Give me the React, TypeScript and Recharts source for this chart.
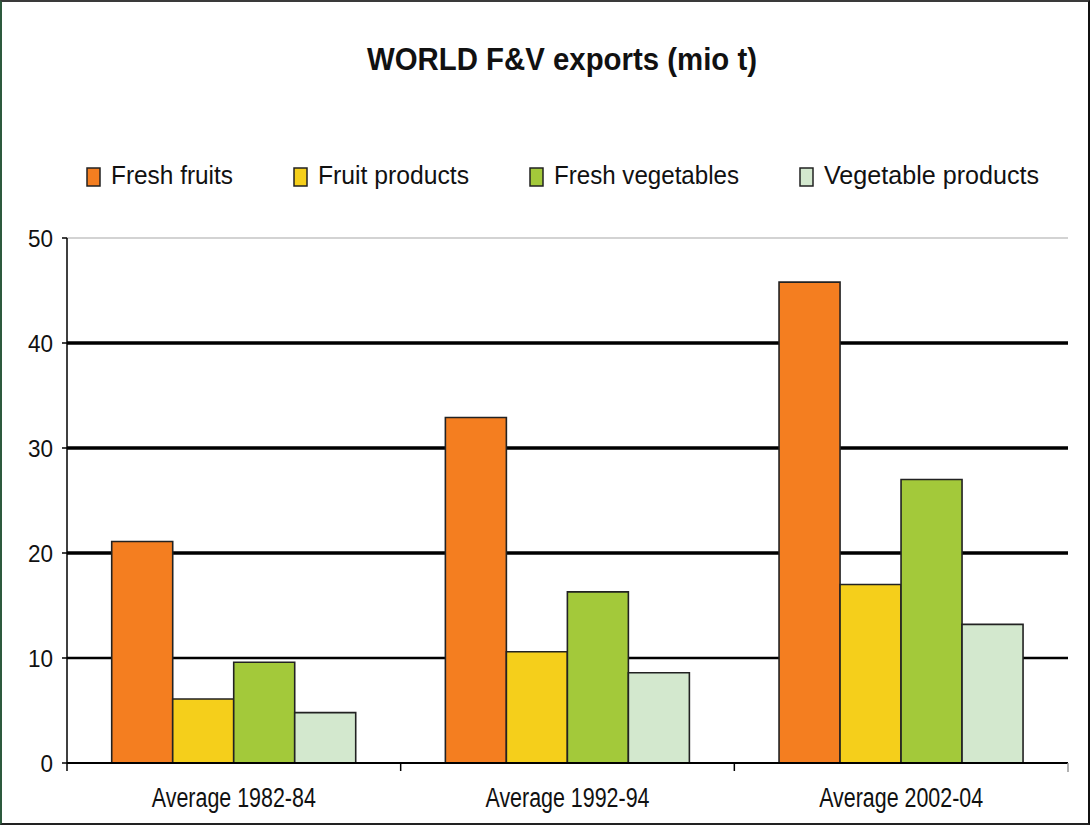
import React from 'react';
import { BarChart, Bar, XAxis, YAxis, CartesianGrid } from 'recharts';

// ---------- data ----------
const categories = ['Average 1982-84', 'Average 1992-94', 'Average 2002-04'];
const freshFruits = [21.1, 32.9, 45.8];
const fruitProducts = [6.1, 10.6, 17.0];
const freshVegetables = [9.6, 16.3, 27.0];
const vegetableProducts = [4.8, 8.6, 13.2];
const yTicks = [0, 10, 20, 30, 40, 50];
const seriesKeys = ['freshFruits', 'fruitProducts', 'freshVegetables', 'vegetableProducts'];
const seriesNames = ['Fresh fruits', 'Fruit products', 'Fresh vegetables', 'Vegetable products'];
const chartTitle = 'WORLD F&V exports (mio t)';

const data = categories.map((c, i) => ({
  category: c,
  freshFruits: freshFruits[i],
  fruitProducts: fruitProducts[i],
  freshVegetables: freshVegetables[i],
  vegetableProducts: vegetableProducts[i],
}));

// ---------- style ----------
const FONT = '"Liberation Sans", Arial, sans-serif';
const colors: Record<string, string> = {
  freshFruits: '#F47E20',
  fruitProducts: '#F5CF1B',
  freshVegetables: '#A3C93A',
  vegetableProducts: '#D3E8CE',
};
const legendTextWidths = [122, 151, 185, 215];
const W = 1091;
const H = 826;

const XTick = (props: any) => {
  const { x, y, payload, index } = props;
  const half = payload && typeof payload.offset === 'number' && payload.offset > 0 ? payload.offset : 1001 / 6;
  const isLast = index === categories.length - 1;
  return (
    <g>
      <line x1={x - half} y1={y} x2={x - half} y2={y + 8} stroke="#000" strokeWidth={1.5} />
      {isLast && <line x1={x + half} y1={y} x2={x + half} y2={y + 9} stroke="#999" strokeWidth={1.5} />}
      <text
        x={x}
        y={y + 44}
        textAnchor="middle"
        fontFamily={FONT}
        fontSize={27}
        fill="#111"
        textLength={164}
        lengthAdjust="spacingAndGlyphs"
      >
        {payload.value}
      </text>
    </g>
  );
};

const YTick = (props: any) => {
  const { x, y, payload } = props;
  const s = String(payload.value);
  return (
    <text
      x={x}
      y={y}
      dy="0.36em"
      textAnchor="end"
      fontFamily={FONT}
      fontSize={24}
      fill="#111"
      textLength={s.length * 12.5}
      lengthAdjust="spacingAndGlyphs"
    >
      {s}
    </text>
  );
};

const GridLine = (p: any) => {
  const top = typeof p.y === 'number' ? p.y : 0;
  const h = typeof p.height === 'number' && p.height > 0 ? p.height : 1;
  const frac = 1 - (p.y1 - top) / h; // 0 at bottom, 1 at top
  let stroke = '#000';
  let sw = 3.5;
  if (frac > 0.95) {
    stroke = '#a8a8a8';
    sw = 1.2;
  } else if (frac < 0.05) {
    sw = 0;
  } else if (frac < 0.3) {
    sw = 2.4;
  }
  if (sw === 0) return <g key={p.key} />;
  return <line key={p.key} x1={p.x1} y1={p.y1} x2={p.x2} y2={p.y2} stroke={stroke} strokeWidth={sw} />;
};

export default function App() {
  let lx = 87;
  const legendItems = seriesKeys.map((k, i) => {
    const item = { key: k, name: seriesNames[i], x: lx, w: legendTextWidths[i] };
    lx += 14 + 10 + legendTextWidths[i] + 61;
    return item;
  });

  return (
    <div style={{ position: 'absolute', left: 0, top: 0, width: W, height: H, background: '#fff' }}>
      <BarChart
        width={W}
        height={H}
        data={data}
        margin={{ top: 238, right: 23, bottom: 23, left: 0 }}
        barCategoryGap="13.4%"
        barGap={0}
      >
        <CartesianGrid vertical={false} horizontal={(p: any) => <GridLine {...p} />} yAxisId="left" />
        <XAxis
          dataKey="category"
          height={40}
          tickSize={0}
          tickMargin={0}
          tickLine={false}
          axisLine={{ stroke: '#000', strokeWidth: 2 }}
          tick={<XTick />}
          interval={0}
          yAxisId="left"
        />
        <YAxis
          yAxisId="left"
          width={67}
          domain={[0, 50]}
          ticks={yTicks}
          interval={0}
          tickSize={5}
          tickMargin={9}
          axisLine={{ stroke: '#000', strokeWidth: 1.5 }}
          tickLine={{ stroke: '#000', strokeWidth: 1.5 }}
          tick={<YTick />}
        />
        <YAxis
          yAxisId="right"
          orientation="right"
          width={0}
          domain={[0, 50]}
          tick={false}
          tickLine={false}
          axisLine={{ stroke: '#a8a8a8', strokeWidth: 1.5 }}
        />
        {seriesKeys.map((k, i) => (
          <Bar
            key={k}
            yAxisId="left"
            dataKey={k}
            name={seriesNames[i]}
            fill={colors[k]}
            stroke="#222"
            strokeWidth={1.6}
            isAnimationActive={false}
          />
        ))}
      </BarChart>
      <svg width={W} height={H} style={{ position: 'absolute', left: 0, top: 0, pointerEvents: 'none' }}>
        <text
          x={562}
          y={70}
          textAnchor="middle"
          fontFamily={FONT}
          fontWeight="bold"
          fontSize={32}
          fill="#111"
          textLength={390}
          lengthAdjust="spacingAndGlyphs"
        >
          {chartTitle}
        </text>
        {legendItems.map((it) => (
          <g key={it.key}>
            <rect x={it.x} y={168} width={13} height={18} fill={colors[it.key]} stroke="#222" strokeWidth={1.5} />
            <text
              x={it.x + 24}
              y={184}
              fontFamily={FONT}
              fontSize={26}
              fill="#111"
              textLength={it.w}
              lengthAdjust="spacingAndGlyphs"
            >
              {it.name}
            </text>
          </g>
        ))}
      </svg>
      <div
        style={{
          position: 'absolute',
          left: 0,
          top: 0,
          width: 1090,
          height: 825,
          boxSizing: 'border-box',
          borderLeft: '2px solid #2d5a3d',
          borderTop: '2px solid #3a3a3a',
          borderRight: '2px solid #111',
          borderBottom: '2px solid #222',
          pointerEvents: 'none',
        }}
      />
    </div>
  );
}
